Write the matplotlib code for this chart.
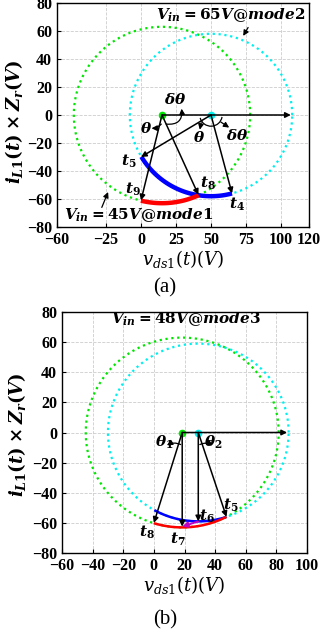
import numpy as np
import matplotlib.pyplot as plt
from matplotlib.patches import Arc

plt.rcParams['font.family'] = 'Liberation Serif'
plt.rcParams['mathtext.fontset'] = 'custom'
plt.rcParams['mathtext.it'] = 'DejaVu Serif:italic:bold'
plt.rcParams['mathtext.rm'] = 'DejaVu Serif:bold'
plt.rcParams['mathtext.bf'] = 'DejaVu Serif:bold'

# panel (a): Vin = 45V mode1 (green) / Vin = 65V mode2 (cyan)
a_green_c = 15
a_green_r = 63
a_cyan_c = 50
a_cyan_r = 58
a_t5 = (0, -30)
a_t4 = (65, -56)
a_t9 = (0, -61)
a_t8 = (41, -57)
a_xticks = [-60, -25, 0, 25, 50, 75, 100, 120]

# panel (b): Vin = 48V mode3
b_green_c = 18.5
b_green_r = 63
b_cyan_c = 29
b_cyan_r = 59
b_blue_start = (0, -52)
b_t5 = (47.4, -56)
b_t6 = (29, -59)
b_t7 = (18.5, -62.5)
b_t8 = (0, -60)
b_xticks = [-60, -40, -20, 0, 20, 40, 60, 80, 100]

yticks = [-80, -60, -40, -20, 0, 20, 40, 60, 80]

GREEN = '#00e600'
CYAN = '#00f0f0'
TS = 11


def circle(ax, cx, r, color):
    th = np.linspace(0, 2 * np.pi, 400)
    ax.plot(cx + r * np.cos(th), r * np.sin(th), ':', color=color, lw=1.6)
    ax.plot(cx, 0, 'o', color=color, ms=4.5)


def arc(ax, cx, r, p0, p1, color, lw):
    a0 = np.arctan2(p0[1], p0[0] - cx)
    a1 = np.arctan2(p1[1], p1[0] - cx)
    th = np.linspace(a0, a1, 100)
    ax.plot(cx + r * np.cos(th), r * np.sin(th), '-', color=color, lw=lw,
            solid_capstyle='butt')


def arrow(ax, start, tip, color='k', lw=1.1, cs='arc3'):
    ax.annotate('', xy=tip, xytext=start,
                arrowprops=dict(arrowstyle='-|>', color=color, lw=lw,
                                mutation_scale=8, shrinkA=0, shrinkB=0,
                                connectionstyle=cs))


def style(ax, xticks):
    ax.set_xticks(xticks)
    ax.set_yticks(yticks)
    ax.set_ylim(-80, 80)
    ax.set_xlim(xticks[0], xticks[-1])
    ax.grid(True, ls='--', color='#cccccc', lw=0.6)
    ax.set_axisbelow(True)
    ax.tick_params(direction='in', length=3, labelsize=11.5, width=0.8)
    for lbl in ax.get_xticklabels() + ax.get_yticklabels():
        lbl.set_fontweight('bold')
    for s in ax.spines.values():
        s.set_linewidth(1.0)
    ax.set_xlabel(r'$v_{ds1}(t)(V)$', fontsize=13,
                  math_fontfamily='dejavuserif', labelpad=0)
    ax.set_ylabel(r'$i_{L1}(t)\times Z_r(V)$', fontsize=13)


fig = plt.figure(figsize=(3.21, 6.38), dpi=100)

# ---------------- (a)
ax1 = fig.add_axes([57 / 321, 1 - 227 / 638, 252 / 321, 224 / 638])
circle(ax1, a_green_c, a_green_r, GREEN)
circle(ax1, a_cyan_c, a_cyan_r, CYAN)
arc(ax1, a_cyan_c, a_cyan_r, a_t5, a_t4, 'b', 3.2)
arc(ax1, a_green_c, a_green_r, a_t9, a_t8, 'r', 3.2)
arrow(ax1, (a_green_c, 0), (a_cyan_c + a_cyan_r - 1, 0))
arrow(ax1, (a_green_c, 0), a_t9)
arrow(ax1, (a_green_c, 0), a_t8)
arrow(ax1, (a_cyan_c, 0), a_t5)
arrow(ax1, (a_cyan_c, 0), a_t4)
# angle markers
arrow(ax1, (18, -6.5), (29, 4.5), lw=0.9, cs='arc3,rad=0.6')
arrow(ax1, (14.5, -6.5), (7.5, -9.5), lw=0.9, cs='arc3,rad=-0.2')
ax1.add_patch(Arc((a_cyan_c, 0), 16, 16, theta1=195, theta2=350, color='k', lw=0.9))
arrow(ax1, (43, -5.5), (42, -10.5), lw=0.9)
arrow(ax1, (57, -5), (63, -9), lw=0.9)
ax1.text(24.5, 11, r'$\delta\theta$', fontsize=TS, ha='center', va='center')
ax1.text(3.5, -9.5, r'$\theta$', fontsize=TS, ha='center', va='center')
ax1.text(41.5, -16, r'$\theta$', fontsize=TS, ha='center', va='center')
ax1.text(69, -14.5, r'$\delta\theta$', fontsize=TS, ha='center', va='center')
ax1.text(-9, -33, r'$t_5$', fontsize=TS, ha='center', va='center')
ax1.text(-6, -53, r'$t_9$', fontsize=TS, ha='center', va='center')
ax1.text(47.5, -49, r'$t_8$', fontsize=TS, ha='center', va='center')
ax1.text(68.5, -64, r'$t_4$', fontsize=TS, ha='center', va='center')
ax1.text(64, 71.5, r'$V_{in}=65V@mode2$', fontsize=11, ha='center', va='center')
arrow(ax1, (76.5, 62.5), (73, 56.5), lw=0.9)
ax1.text(-2, -71.5, r'$V_{in}=45V@mode1$', fontsize=11, ha='center', va='center')
arrow(ax1, (-28, -66), (-23.5, -55), lw=0.9)
style(ax1, a_xticks)
ax1.yaxis.set_label_coords(-0.127, 0.47)
fig.text(165 / 321, 1 - 288 / 638, '(a)', fontsize=15, ha='center', va='center')

# ---------------- (b)
ax2 = fig.add_axes([62 / 321, 1 - 553 / 638, 245 / 321, 241 / 638])
circle(ax2, b_green_c, b_green_r, GREEN)
circle(ax2, b_cyan_c, b_cyan_r, CYAN)
arc(ax2, b_cyan_c, b_cyan_r, b_blue_start, b_t5, 'b', 1.8)
arc(ax2, b_green_c, b_green_r, b_t8, b_t5, 'r', 1.8)
arrow(ax2, b_t6, b_t7, color='m', lw=1.4)
arrow(ax2, (b_green_c, 0), (b_cyan_c + b_cyan_r - 1, 0))
arrow(ax2, (b_green_c, 0), b_t8)
arrow(ax2, (b_green_c, 0), b_t7)
arrow(ax2, (b_cyan_c, 0), b_t6)
arrow(ax2, (b_cyan_c, 0), b_t5)
arrow(ax2, (17.5, -8), (8.5, -8.5), lw=0.9, cs='arc3,rad=0.25')
arrow(ax2, (30, -8), (38.5, -8.5), lw=0.9, cs='arc3,rad=-0.25')
ax2.text(7, -6.5, r'$\theta_1$', fontsize=TS, ha='center', va='center')
ax2.text(39, -6.5, r'$\theta_2$', fontsize=TS, ha='center', va='center')
ax2.text(-4.5, -66, r'$t_8$', fontsize=TS, ha='center', va='center')
ax2.text(15.5, -71, r'$t_7$', fontsize=TS, ha='center', va='center')
ax2.text(34.5, -55.5, r'$t_6$', fontsize=TS, ha='center', va='center')
ax2.text(50, -48, r'$t_5$', fontsize=TS, ha='center', va='center')
ax2.text(21, 75, r'$V_{in}=48V@mode3$', fontsize=11, ha='center', va='center')
style(ax2, b_xticks)
ax2.yaxis.set_label_coords(-0.139, 0.49)
fig.text(165 / 321, 1 - 620 / 638, '(b)', fontsize=15, ha='center', va='center')

fig.savefig('out.png', dpi=100)
